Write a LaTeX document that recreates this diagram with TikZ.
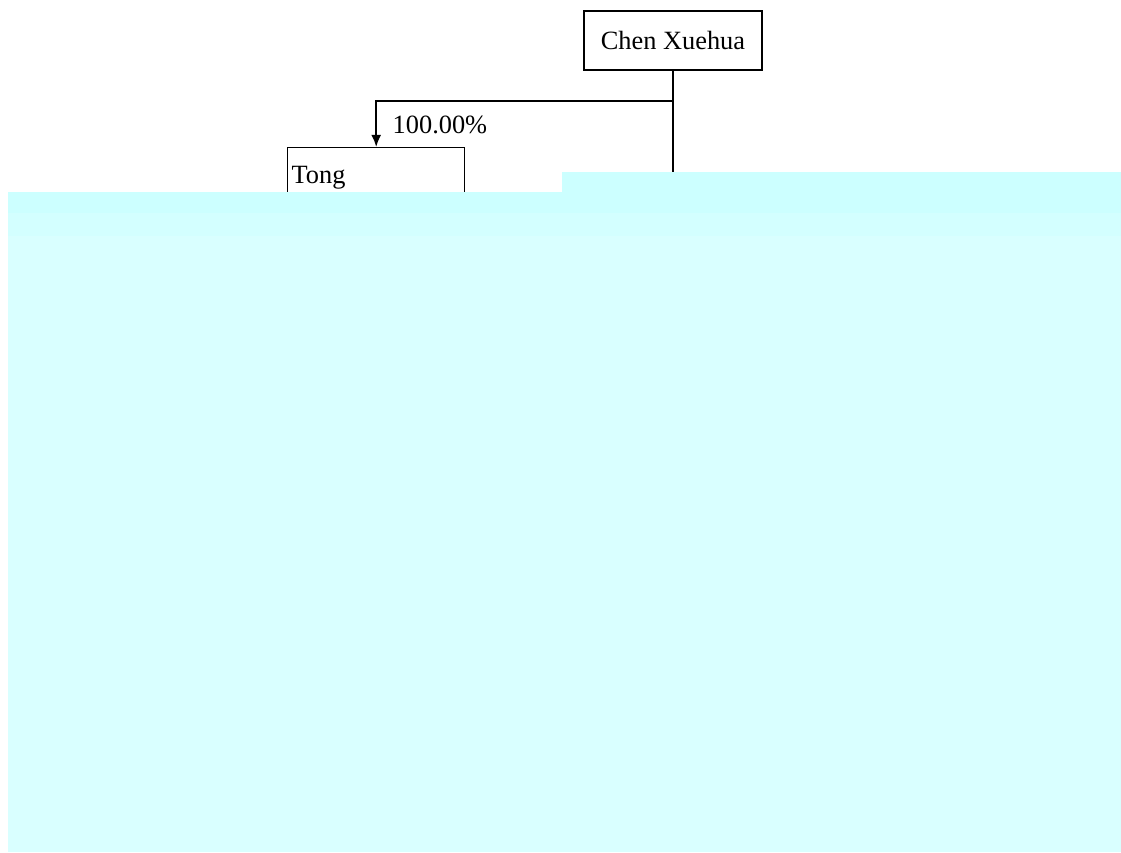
\documentclass[tikz,border=0pt]{standalone}
\usepackage{fontspec}
\setmainfont{Liberation Serif}
\usepackage{tikz}
\usetikzlibrary{calc,positioning,arrows.meta}

\definecolor{bandcyan}{RGB}{204,255,255}
\definecolor{midcyan}{RGB}{211,255,255}
\definecolor{palecyan}{RGB}{217,255,255}

\tikzset{
  holder/.style={draw, line width=0.4pt, inner sep=0pt, font=\fontsize{7.5}{9}\selectfont},
  share/.style={line width=0.6pt},
  pct/.style={font=\fontsize{7.5}{9}\selectfont, inner sep=0pt}
}

\begin{document}
\begin{tikzpicture}
\useasboundingbox (0,0) rectangle (11.21,-8.52);

%Owners
\node[holder, minimum width=1.78cm, minimum height=0.59cm] (chen) at (6.73,-0.405) {Chen Xuehua};
\node[holder, minimum width=1.77cm, minimum height=0.80cm, anchor=north west] (tong) at (2.87,-1.47) {};
\node[pct, anchor=west] (tongname) at (2.91,-1.78) {Tong};

%Shares
\coordinate (branch) at ($(chen.south)+(0,-0.30)$);
\coordinate (trunk) at ($(chen.south)+(0,-1.25)$);
\draw[share] (chen.south) -- (trunk);
\draw[share, -{Latex[length=1.2mm, width=1mm]}] (branch) -| (tong.north);
\node[pct, anchor=west] (tongpct) at (3.92,-1.25) {100.00\%};

%Cut off part
\fill[bandcyan] (5.62,-1.72) rectangle (11.21,-1.93);
\fill[bandcyan] (0.08,-1.92) rectangle (11.21,-2.13);
\fill[midcyan] (0.08,-2.13) rectangle (11.21,-2.36);
\fill[palecyan] (0.08,-2.36) rectangle (11.21,-8.52);

\end{tikzpicture}
\end{document}
